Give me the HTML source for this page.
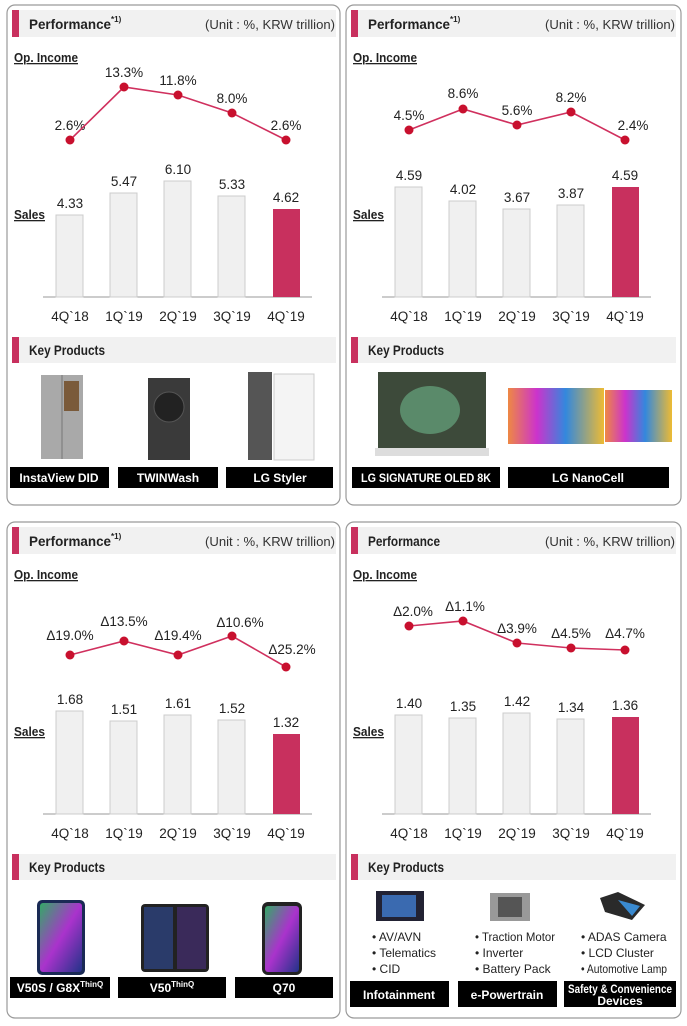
<!DOCTYPE html>
<html><head><meta charset="utf-8"><style>
html,body{margin:0;padding:0;background:#fff}
svg{display:block}
text{font-family:"Liberation Sans",Arial,sans-serif}
</style></head><body>
<svg width="687" height="1026" viewBox="0 0 687 1026" xmlns="http://www.w3.org/2000/svg">
<defs>
<linearGradient id="tv2" x1="0" x2="1"><stop offset="0" stop-color="#e84"/><stop offset="0.3" stop-color="#c3c"/><stop offset="0.6" stop-color="#38d"/><stop offset="1" stop-color="#eb3"/></linearGradient>
<linearGradient id="ph" x1="0" y1="0" x2="1" y2="1"><stop offset="0" stop-color="#3a6"/><stop offset="0.5" stop-color="#a3c"/><stop offset="1" stop-color="#238"/></linearGradient>
</defs>
<g fill="none" stroke="#9a9a9a" stroke-width="1.2">
<rect x="7" y="5" width="333" height="500" rx="8"/>
<rect x="346" y="5" width="335" height="500" rx="8"/>
<rect x="7" y="522" width="333" height="496" rx="8"/>
<rect x="346" y="522" width="335" height="496" rx="8"/>
</g>

<!-- ===== TOP LEFT ===== -->
<g>
<rect x="12" y="10" width="324" height="27" fill="#f1f1f1"/><rect x="12" y="10" width="7" height="27" fill="#c8305e"/>
<text x="29" y="29" font-size="14" font-weight="bold" fill="#222" textLength="82" lengthAdjust="spacingAndGlyphs">Performance</text><text x="111" y="22" font-size="8" font-weight="bold" fill="#222">*1)</text>
<text x="335" y="29" font-size="13" text-anchor="end" fill="#333" textLength="130" lengthAdjust="spacingAndGlyphs">(Unit : %, KRW trillion)</text>
<text x="14" y="62" font-size="13" font-weight="bold" fill="#222" text-decoration="underline" textLength="64" lengthAdjust="spacingAndGlyphs">Op. Income</text>
<text x="14" y="219" font-size="13" font-weight="bold" fill="#222" text-decoration="underline" textLength="31" lengthAdjust="spacingAndGlyphs">Sales</text>
<line x1="43" y1="297" x2="312" y2="297" stroke="#999"/>
<g fill="#f0f0f0" stroke="#ccc">
<rect x="56" y="215" width="27" height="82"/><rect x="110" y="193" width="27" height="104"/><rect x="164" y="181" width="27" height="116"/><rect x="218" y="196" width="27" height="101"/></g>
<rect x="273" y="209" width="27" height="88" fill="#c8305e"/>
<g font-size="13.5" text-anchor="middle" fill="#222">
<text x="70" y="208">4.33</text><text x="124" y="186">5.47</text><text x="178" y="174">6.10</text><text x="232" y="189">5.33</text><text x="286" y="202">4.62</text>
<text x="70" y="321">4Q`18</text><text x="124" y="321">1Q`19</text><text x="178" y="321">2Q`19</text><text x="232" y="321">3Q`19</text><text x="286" y="321">4Q`19</text>
<text x="70" y="130">2.6%</text><text x="124" y="77">13.3%</text><text x="178" y="85">11.8%</text><text x="232" y="103">8.0%</text><text x="286" y="130">2.6%</text>
</g>
<polyline points="70,140 124,87 178,95 232,113 286,140" fill="none" stroke="#d0305e" stroke-width="1.6"/>
<g fill="#c8102e"><circle cx="70" cy="140" r="4.5"/><circle cx="124" cy="87" r="4.5"/><circle cx="178" cy="95" r="4.5"/><circle cx="232" cy="113" r="4.5"/><circle cx="286" cy="140" r="4.5"/></g>
<rect x="12" y="337" width="324" height="26" fill="#f1f1f1"/><rect x="12" y="337" width="7" height="26" fill="#c8305e"/>
<text x="29" y="355" font-size="14" font-weight="bold" fill="#222" textLength="76" lengthAdjust="spacingAndGlyphs">Key Products</text>
<rect x="41" y="375" width="42" height="84" fill="#a9a9a9"/><rect x="64" y="381" width="15" height="30" fill="#7a5a3a"/><line x1="62" y1="375" x2="62" y2="459" stroke="#777"/>
<rect x="148" y="378" width="42" height="82" fill="#3a3a3a"/><circle cx="169" cy="407" r="15" fill="#222" stroke="#555"/>
<rect x="248" y="372" width="24" height="88" fill="#555"/><rect x="274" y="374" width="40" height="86" fill="#f4f4f4" stroke="#ccc"/>
<g fill="#000"><rect x="10" y="467" width="99" height="21"/><rect x="118" y="467" width="100" height="21"/><rect x="226" y="467" width="107" height="21"/></g>
<g font-size="12" font-weight="bold" fill="#fff" text-anchor="middle"><text x="59" y="482">InstaView DID</text><text x="168" y="482">TWINWash</text><text x="280" y="482">LG Styler</text></g>
</g>

<!-- ===== TOP RIGHT ===== -->
<g>
<rect x="351" y="10" width="325" height="27" fill="#f1f1f1"/><rect x="351" y="10" width="7" height="27" fill="#c8305e"/>
<text x="368" y="29" font-size="14" font-weight="bold" fill="#222" textLength="82" lengthAdjust="spacingAndGlyphs">Performance</text><text x="450" y="22" font-size="8" font-weight="bold" fill="#222">*1)</text>
<text x="675" y="29" font-size="13" text-anchor="end" fill="#333" textLength="130" lengthAdjust="spacingAndGlyphs">(Unit : %, KRW trillion)</text>
<text x="353" y="62" font-size="13" font-weight="bold" fill="#222" text-decoration="underline" textLength="64" lengthAdjust="spacingAndGlyphs">Op. Income</text>
<text x="353" y="219" font-size="13" font-weight="bold" fill="#222" text-decoration="underline" textLength="31" lengthAdjust="spacingAndGlyphs">Sales</text>
<line x1="382" y1="297" x2="651" y2="297" stroke="#999"/>
<g fill="#f0f0f0" stroke="#ccc">
<rect x="395" y="187" width="27" height="110"/><rect x="449" y="201" width="27" height="96"/><rect x="503" y="209" width="27" height="88"/><rect x="557" y="205" width="27" height="92"/></g>
<rect x="612" y="187" width="27" height="110" fill="#c8305e"/>
<g font-size="13.5" text-anchor="middle" fill="#222">
<text x="409" y="180">4.59</text><text x="463" y="194">4.02</text><text x="517" y="202">3.67</text><text x="571" y="198">3.87</text><text x="625" y="180">4.59</text>
<text x="409" y="321">4Q`18</text><text x="463" y="321">1Q`19</text><text x="517" y="321">2Q`19</text><text x="571" y="321">3Q`19</text><text x="625" y="321">4Q`19</text>
<text x="409" y="120">4.5%</text><text x="463" y="98">8.6%</text><text x="517" y="115">5.6%</text><text x="571" y="102">8.2%</text><text x="633" y="130">2.4%</text>
</g>
<polyline points="409,130 463,109 517,125 571,112 625,140" fill="none" stroke="#d0305e" stroke-width="1.6"/>
<g fill="#c8102e"><circle cx="409" cy="130" r="4.5"/><circle cx="463" cy="109" r="4.5"/><circle cx="517" cy="125" r="4.5"/><circle cx="571" cy="112" r="4.5"/><circle cx="625" cy="140" r="4.5"/></g>
<rect x="351" y="337" width="325" height="26" fill="#f1f1f1"/><rect x="351" y="337" width="7" height="26" fill="#c8305e"/>
<text x="368" y="355" font-size="14" font-weight="bold" fill="#222" textLength="76" lengthAdjust="spacingAndGlyphs">Key Products</text>
<rect x="378" y="372" width="108" height="76" fill="#3d4a3a"/><ellipse cx="430" cy="410" rx="30" ry="24" fill="#5a8a6a"/><rect x="375" y="448" width="114" height="8" fill="#ddd"/>
<rect x="508" y="388" width="96" height="56" fill="url(#tv2)"/><rect x="605" y="390" width="67" height="52" fill="url(#tv2)"/>
<g fill="#000"><rect x="352" y="467" width="148" height="21"/><rect x="508" y="467" width="161" height="21"/></g>
<g font-size="12" font-weight="bold" fill="#fff" text-anchor="middle"><text x="426" y="482" textLength="130" lengthAdjust="spacingAndGlyphs">LG SIGNATURE OLED 8K</text><text x="588" y="482">LG NanoCell</text></g>
</g>

<!-- ===== BOTTOM LEFT ===== -->
<g>
<rect x="12" y="527" width="324" height="27" fill="#f1f1f1"/><rect x="12" y="527" width="7" height="27" fill="#c8305e"/>
<text x="29" y="546" font-size="14" font-weight="bold" fill="#222" textLength="82" lengthAdjust="spacingAndGlyphs">Performance</text><text x="111" y="539" font-size="8" font-weight="bold" fill="#222">*1)</text>
<text x="335" y="546" font-size="13" text-anchor="end" fill="#333" textLength="130" lengthAdjust="spacingAndGlyphs">(Unit : %, KRW trillion)</text>
<text x="14" y="579" font-size="13" font-weight="bold" fill="#222" text-decoration="underline" textLength="64" lengthAdjust="spacingAndGlyphs">Op. Income</text>
<text x="14" y="736" font-size="13" font-weight="bold" fill="#222" text-decoration="underline" textLength="31" lengthAdjust="spacingAndGlyphs">Sales</text>
<line x1="43" y1="814" x2="312" y2="814" stroke="#999"/>
<g fill="#f0f0f0" stroke="#ccc">
<rect x="56" y="711" width="27" height="103"/><rect x="110" y="721" width="27" height="93"/><rect x="164" y="715" width="27" height="99"/><rect x="218" y="720" width="27" height="94"/></g>
<rect x="273" y="734" width="27" height="80" fill="#c8305e"/>
<g font-size="13.5" text-anchor="middle" fill="#222">
<text x="70" y="704">1.68</text><text x="124" y="714">1.51</text><text x="178" y="708">1.61</text><text x="232" y="713">1.52</text><text x="286" y="727">1.32</text>
<text x="70" y="838">4Q`18</text><text x="124" y="838">1Q`19</text><text x="178" y="838">2Q`19</text><text x="232" y="838">3Q`19</text><text x="286" y="838">4Q`19</text>
<text x="70" y="640">Δ19.0%</text><text x="124" y="626">Δ13.5%</text><text x="178" y="640">Δ19.4%</text><text x="240" y="627">Δ10.6%</text><text x="292" y="654">Δ25.2%</text>
</g>
<polyline points="70,655 124,641 178,655 232,636 286,667" fill="none" stroke="#d0305e" stroke-width="1.6"/>
<g fill="#c8102e"><circle cx="70" cy="655" r="4.5"/><circle cx="124" cy="641" r="4.5"/><circle cx="178" cy="655" r="4.5"/><circle cx="232" cy="636" r="4.5"/><circle cx="286" cy="667" r="4.5"/></g>
<rect x="12" y="854" width="324" height="26" fill="#f1f1f1"/><rect x="12" y="854" width="7" height="26" fill="#c8305e"/>
<text x="29" y="872" font-size="14" font-weight="bold" fill="#222" textLength="76" lengthAdjust="spacingAndGlyphs">Key Products</text>
<rect x="37" y="900" width="48" height="75" rx="5" fill="#1a2a55"/><rect x="40" y="903" width="42" height="69" rx="3" fill="url(#ph)"/>
<rect x="141" y="904" width="68" height="68" rx="4" fill="#222"/><rect x="144" y="907" width="29" height="62" fill="#2a3b6a"/><rect x="177" y="907" width="29" height="62" fill="#3a2a5a"/>
<rect x="262" y="902" width="40" height="73" rx="6" fill="#222"/><rect x="265" y="906" width="34" height="66" rx="3" fill="url(#ph)"/>
<g fill="#000"><rect x="10" y="977" width="100" height="21"/><rect x="118" y="977" width="108" height="21"/><rect x="235" y="977" width="98" height="21"/></g>
<g font-size="12" font-weight="bold" fill="#fff" text-anchor="middle"><text x="60" y="992">V50S / G8X<tspan font-size="8" dy="-5">ThinQ</tspan></text><text x="172" y="992">V50<tspan font-size="8" dy="-5">ThinQ</tspan></text><text x="284" y="992">Q70</text></g>
</g>

<!-- ===== BOTTOM RIGHT ===== -->
<g>
<rect x="351" y="527" width="325" height="27" fill="#f1f1f1"/><rect x="351" y="527" width="7" height="27" fill="#c8305e"/>
<text x="368" y="546" font-size="14" font-weight="bold" fill="#222" textLength="72" lengthAdjust="spacingAndGlyphs">Performance</text>
<text x="675" y="546" font-size="13" text-anchor="end" fill="#333" textLength="130" lengthAdjust="spacingAndGlyphs">(Unit : %, KRW trillion)</text>
<text x="353" y="579" font-size="13" font-weight="bold" fill="#222" text-decoration="underline" textLength="64" lengthAdjust="spacingAndGlyphs">Op. Income</text>
<text x="353" y="736" font-size="13" font-weight="bold" fill="#222" text-decoration="underline" textLength="31" lengthAdjust="spacingAndGlyphs">Sales</text>
<line x1="382" y1="814" x2="651" y2="814" stroke="#999"/>
<g fill="#f0f0f0" stroke="#ccc">
<rect x="395" y="715" width="27" height="99"/><rect x="449" y="718" width="27" height="96"/><rect x="503" y="713" width="27" height="101"/><rect x="557" y="719" width="27" height="95"/></g>
<rect x="612" y="717" width="27" height="97" fill="#c8305e"/>
<g font-size="13.5" text-anchor="middle" fill="#222">
<text x="409" y="708">1.40</text><text x="463" y="711">1.35</text><text x="517" y="706">1.42</text><text x="571" y="712">1.34</text><text x="625" y="710">1.36</text>
<text x="409" y="838">4Q`18</text><text x="463" y="838">1Q`19</text><text x="517" y="838">2Q`19</text><text x="571" y="838">3Q`19</text><text x="625" y="838">4Q`19</text>
<text x="413" y="616">Δ2.0%</text><text x="465" y="611">Δ1.1%</text><text x="517" y="633">Δ3.9%</text><text x="571" y="638">Δ4.5%</text><text x="625" y="638">Δ4.7%</text>
</g>
<polyline points="409,626 463,621 517,643 571,648 625,650" fill="none" stroke="#d0305e" stroke-width="1.6"/>
<g fill="#c8102e"><circle cx="409" cy="626" r="4.5"/><circle cx="463" cy="621" r="4.5"/><circle cx="517" cy="643" r="4.5"/><circle cx="571" cy="648" r="4.5"/><circle cx="625" cy="650" r="4.5"/></g>
<rect x="351" y="854" width="325" height="26" fill="#f1f1f1"/><rect x="351" y="854" width="7" height="26" fill="#c8305e"/>
<text x="368" y="872" font-size="14" font-weight="bold" fill="#222" textLength="76" lengthAdjust="spacingAndGlyphs">Key Products</text>
<rect x="376" y="891" width="48" height="30" fill="#223"/><rect x="382" y="895" width="34" height="22" fill="#3a6ab0"/>
<rect x="490" y="893" width="40" height="28" fill="#999"/><rect x="498" y="897" width="24" height="20" fill="#555"/>
<polygon points="600,898 618,892 645,905 632,920 605,912" fill="#2a2a2a"/><polygon points="618,900 640,906 632,916" fill="#3a8ad0"/>
<g font-size="12" fill="#222">
<text x="372" y="941">• AV/AVN</text><text x="372" y="957">• Telematics</text><text x="372" y="973">• CID</text>
<text x="475" y="941" textLength="80" lengthAdjust="spacingAndGlyphs">• Traction Motor</text><text x="475" y="957">• Inverter</text><text x="475" y="973">• Battery Pack</text>
<text x="581" y="941">• ADAS Camera</text><text x="581" y="957">• LCD Cluster</text><text x="581" y="973" textLength="86" lengthAdjust="spacingAndGlyphs">• Automotive Lamp</text>
</g>
<g fill="#000"><rect x="350" y="981" width="99" height="26"/><rect x="458" y="981" width="99" height="26"/><rect x="564" y="981" width="112" height="26"/></g>
<g font-size="12" font-weight="bold" fill="#fff" text-anchor="middle"><text x="399" y="999">Infotainment</text><text x="507" y="999">e-Powertrain</text><text x="620" y="993" textLength="104" lengthAdjust="spacingAndGlyphs">Safety &amp; Convenience</text><text x="620" y="1005">Devices</text></g>
</g>
</svg>
</body></html>
